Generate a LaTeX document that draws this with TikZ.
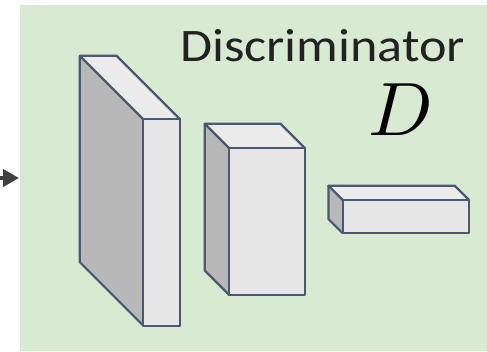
\documentclass[tikz,border=0pt]{standalone}
\usepackage{fontspec}
\newfontfamily\calib[FakeStretch=1.12]{Carlito}
\usetikzlibrary{arrows.meta,calc}
\definecolor{bggreen}{HTML}{D9EAD3}
\definecolor{edgec}{HTML}{4A5872}
\definecolor{frontc}{HTML}{E6E6E6}
\definecolor{topc}{HTML}{EBEBEB}
\definecolor{sidec}{HTML}{B8B8B8}
\definecolor{arrc}{HTML}{404040}
\definecolor{textc}{HTML}{222222}
\tikzset{
  face/.style={draw=edgec, line width=2.2pt, line join=round},
  arr/.style={draw=arrc, line width=4pt, -{Triangle[length=16pt,width=17pt]}},
}
% #1 name, #2 front x1, #3 front y1, #4 front x2, #5 front y2, #6 depth
\newcommand\cuboid[6]{%
  \coordinate (#1-ftl) at (#2,#3);
  \coordinate (#1-ftr) at (#4,#3);
  \coordinate (#1-fbr) at (#4,#5);
  \coordinate (#1-fbl) at (#2,#5);
  \coordinate (#1-btl) at ($(#1-ftl)+(-#6,-#6)$);
  \coordinate (#1-btr) at ($(#1-ftr)+(-#6,-#6)$);
  \coordinate (#1-bbl) at ($(#1-fbl)+(-#6,-#6)$);
  \fill[sidec] (#1-btl) -- (#1-ftl) -- (#1-fbl) -- (#1-bbl) -- cycle;
  \fill[topc] (#1-btl) -- (#1-btr) -- (#1-ftr) -- (#1-ftl) -- cycle;
  \fill[frontc] (#1-ftl) rectangle (#1-fbr);
  \draw[face] (#1-ftl) -- (#1-btl) -- (#1-btr) -- (#1-ftr);
  \draw[face] (#1-btl) -- (#1-bbl) -- (#1-fbl);
  \draw[face] (#1-ftl) rectangle (#1-fbr);
}
\begin{document}
\begin{tikzpicture}[x=1pt,y=-1pt]
\useasboundingbox (0,0) rectangle (487,351);
\node[fill=bggreen, draw=none, inner sep=0, minimum width=467pt, minimum height=346pt, anchor=north west] (bg) at (20,5) {};
\coordinate (in) at (-4,178);
\draw[arr] (in) -- ($(bg.west |- in)+(-1,0)$);
\cuboid{b1}{143.3}{119.3}{180}{325.7}{63.5}
\cuboid{b2}{229.3}{148.3}{305}{295}{24.6}
\cuboid{b3}{342.7}{200}{469}{233.3}{14.3}
\node[anchor=base west, inner sep=0, text=textc, font=\calib\fontsize{46.6}{50}\selectfont] (title) at (180,61.7) {Discriminator};
\node[anchor=base west, inner sep=0] (sym) at (368,135) {\scalebox{7.56}{$D$}};
\end{tikzpicture}
\end{document}
